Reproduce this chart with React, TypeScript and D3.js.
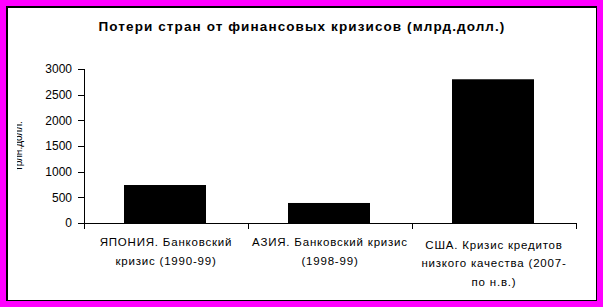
import React from "react";
import * as d3 from "d3";

const title = "Потери стран от финансовых кризисов (млрд.долл.)";
const yAxisLabel = "трлн.долл.";
const categories: string[][] = [
  ["ЯПОНИЯ. Банковский", "кризис (1990-99)"],
  ["АЗИЯ. Банковский кризис", "(1998-99)"],
  ["США. Кризис кредитов", "низкого качества (2007-", "по н.в.)"],
];
const values = [740, 390, 2800];
const yTicks = [0, 500, 1000, 1500, 2000, 2500, 3000];

const W = 603;
const H = 307;
const FONT = "'Liberation Sans', Arial, sans-serif";

export default function App() {
  const left = 84, right = 576, top = 69, bottom = 223;
  const x = d3.scaleBand<number>().domain(d3.range(categories.length)).range([left, right]).padding(0);
  const y = d3.scaleLinear().domain([0, 3000]).range([bottom, top]);
  const step = x.step();
  const barW = step * 0.5;
  const tickEdges = d3.range(categories.length + 1).map((i) => left + i * step);

  return (
    <div style={{ position: "absolute", left: 0, top: 0 }}>
      <svg width={W} height={H} style={{ display: "block" }}>
        <defs>
          <clipPath id="ylab">
            <rect x={17} y={100} width={20} height={100} />
          </clipPath>
        </defs>
        <rect x={0} y={0} width={W} height={H} fill="#FF00FF" />
        <rect x={6} y={6} width={591} height={295} fill="#000" />
        <rect x={8} y={8} width={588} height={292} fill="#fff" />

        <text x={302} y={31} textAnchor="middle" fontFamily={FONT} fontWeight="bold" fontSize={13.5} letterSpacing={1.1} fill="#000">
          {title}
        </text>

        <g clipPath="url(#ylab)">
          <text transform={`translate(22,146) rotate(-90)`} textAnchor="middle" fontFamily={FONT} fontSize={10} fill="#000">
            {yAxisLabel}
          </text>
        </g>

        {values.map((v, i) => (
          <rect key={i} x={x(i)! + step * 0.25 - 1} y={y(v)} width={barW} height={y(0) - y(v)} fill="#000" />
        ))}

        <line x1={left + 0.5} x2={left + 0.5} y1={top} y2={bottom + 0.5} stroke="#000" />
        {yTicks.map((t) => (
          <g key={t}>
            <line x1={left - 6} x2={left} y1={Math.round(y(t)) + 0.5} y2={Math.round(y(t)) + 0.5} stroke="#000" />
            <text x={72} y={y(t)} dy="0.35em" textAnchor="end" fontFamily={FONT} fontSize={12} fill="#000">
              {t}
            </text>
          </g>
        ))}

        <line x1={left} x2={right} y1={bottom + 0.5} y2={bottom + 0.5} stroke="#000" />
        {tickEdges.map((e, i) => (
          <line key={i} x1={Math.round(e) + 0.5} x2={Math.round(e) + 0.5} y1={bottom} y2={bottom + 6} stroke="#000" />
        ))}

        {categories.map((lines, i) => (
          <text key={i} textAnchor="middle" fontFamily={FONT} fontSize={11.5} letterSpacing={0.8} fill="#000">
            {lines.map((ln, j) => (
              <tspan key={j} x={x(i)! + step / 2} y={(lines.length > 2 ? 248.5 : 246) + j * 18.5}>
                {ln}
              </tspan>
            ))}
          </text>
        ))}
      </svg>
    </div>
  );
}
